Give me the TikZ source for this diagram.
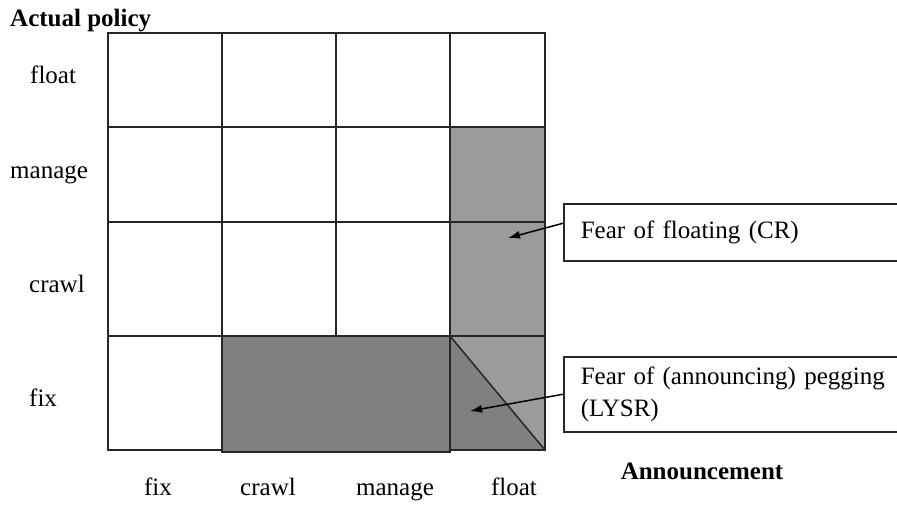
\documentclass[tikz,border=0pt]{standalone}
\usepackage{fontspec}
\setmainfont{Liberation Serif}
\usetikzlibrary{arrows.meta}
\definecolor{lightsh}{RGB}{155,155,155}
\definecolor{darksh}{RGB}{128,128,128}
\begin{document}
\begin{tikzpicture}[x=1pt,y=-1pt,
  lbl/.style={font=\fontsize{25}{30}\selectfont, inner sep=0pt, anchor=base},
  boldlbl/.style={font=\fontsize{25}{30}\selectfont\bfseries, inner sep=0pt, anchor=base},
  gridline/.style={line width=1.5pt, draw=black!85},
  callout/.style={draw=black!85, line width=1.5pt, fill=white, minimum width=345pt,
    inner xsep=17pt, align=left, anchor=north west, text width=320pt,
    font=\fontsize{25}{32}\selectfont},
  arr/.style={line width=1.5pt, -{Latex[length=12pt,width=8pt]}}]
\useasboundingbox (0,0) rectangle (897,509);
% shading
\fill[lightsh] (450,127) rectangle (545,450);
\fill[darksh] (450,336) -- (545,450) -- (450,450) -- cycle;
% grid
\draw[gridline] (108,33) rectangle (545,450);
\foreach \x in {222,336,450} \draw[gridline] (\x,33) -- (\x,450);
\foreach \y in {127,222,336} \draw[gridline] (108,\y) -- (545,\y);
% dark box
\draw[fill=darksh, line width=2pt, draw=black!85] (222,336) rectangle (450,452);
\draw[gridline] (450,336) -- (545,450);
% labels
\node[boldlbl, anchor=base west] (ap) at (10,26) {Actual policy};
\node[lbl, anchor=base west] (rfloat) at (30,83) {float};
\node[lbl, anchor=base west] (rmanage) at (10,178) {manage};
\node[lbl, anchor=base west] (rcrawl) at (29,292) {crawl};
\node[lbl, anchor=base west] (rfix) at (29,406) {fix};
\node[lbl] (cfix) at (158,495) {fix};
\node[lbl] (ccrawl) at (268,495) {crawl};
\node[lbl] (cmanage) at (395,495) {manage};
\node[lbl] (cfloat) at (514,495) {float};
\node[boldlbl] (ann) at (702,479) {Announcement};
% callouts
\node[callout, minimum height=57pt] (cr) at (563,203) {Fear of floating (CR)};
\node[callout, minimum height=75pt] (lysr) at (563,356) {Fear of (announcing) pegging\\(LYSR)};
\coordinate (t1) at (508,238);
\coordinate (t2) at (470,411);
\draw[arr] ([yshift=9pt]cr.west) -- (t1);
\draw[arr] (lysr.west) -- (t2);
\end{tikzpicture}
\end{document}
